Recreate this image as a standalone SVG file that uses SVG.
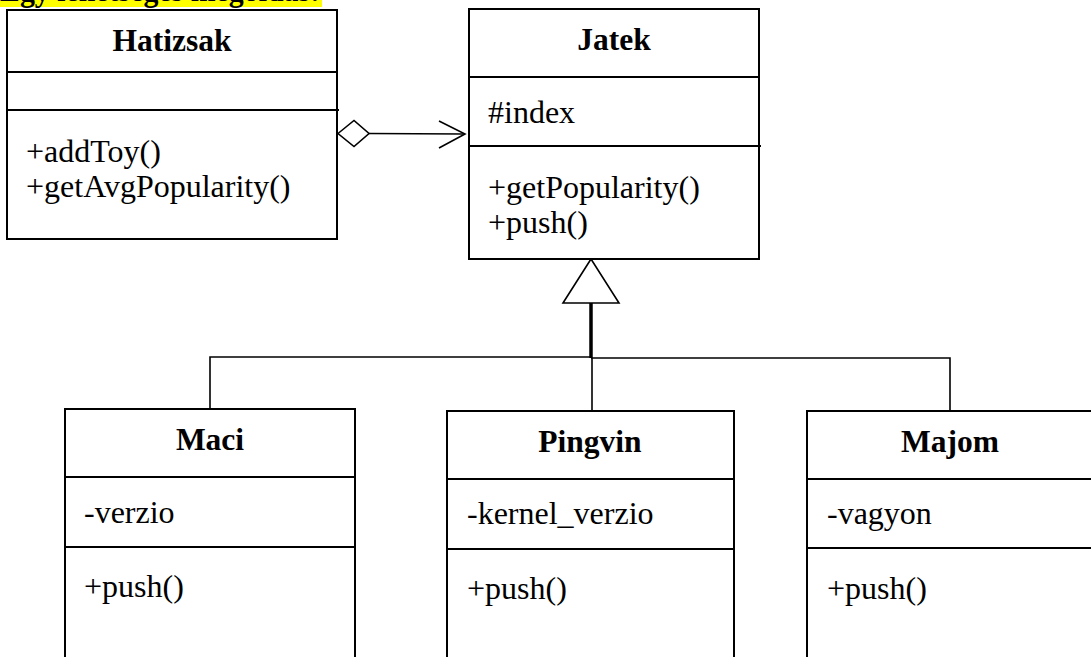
<svg xmlns="http://www.w3.org/2000/svg" width="1091" height="657" viewBox="0 0 1091 657">
<style>
.box{fill:#fff;stroke:#000;stroke-width:2}
.div{stroke:#000;stroke-width:2}
.t{font-family:"Liberation Serif","Times New Roman",serif;font-size:32px;fill:#000}
.b{font-weight:bold;text-anchor:middle;font-size:31.5px}
.c{fill:none;stroke:#000;stroke-width:1.6}
</style>
<rect width="1091" height="657" fill="#fff"/>
<g id="title">
<rect x="0" y="0" width="322" height="7" fill="#ffff00"/>
<text class="t" x="0" y="1" font-weight="bold" textLength="320" lengthAdjust="spacingAndGlyphs">Egy lehetséges megoldás:</text>
</g>
<g id="connectors">
<polygon class="c" points="338,133.5 354,120.5 369,133.5 354,146.5" fill="#fff"/>
<line class="c" x1="369" y1="133.5" x2="464" y2="134"/>
<polyline class="c" points="439,121 465,134 439,148"/>
<polygon class="c" points="591,259 563,303 619,303" fill="#fff"/>
<line x1="591" y1="303" x2="591" y2="358" stroke="#000" stroke-width="3.5"/>
<polyline class="c" points="210,409 210,357 591,357"/>
<polyline class="c" points="591,358 950,358 950,411"/>
<line class="c" x1="592" y1="358" x2="592" y2="411"/>
</g>
<g id="Hatizsak">
<rect class="box" x="7" y="10" width="330" height="229"/>
<line class="div" x1="7" y1="72" x2="337" y2="72"/>
<line class="div" x1="7" y1="110" x2="339" y2="110"/>
<text class="t b" x="172" y="51">Hatizsak</text>
<text class="t" x="26" y="162">+addToy()</text>
<text class="t" x="26" y="197">+getAvgPopularity()</text>
</g>
<g id="Jatek">
<rect class="box" x="469" y="9" width="290" height="250"/>
<line class="div" x1="469" y1="77" x2="760" y2="77"/>
<line class="div" x1="469" y1="146" x2="761" y2="146"/>
<text class="t b" x="614" y="50">Jatek</text>
<text class="t" x="488" y="123">#index</text>
<text class="t" x="488" y="198">+getPopularity()</text>
<text class="t" x="488" y="233">+push()</text>
</g>
<g id="Maci">
<rect class="box" x="65" y="409" width="290" height="260"/>
<line class="div" x1="65" y1="477" x2="356" y2="477"/>
<line class="div" x1="65" y1="547" x2="356" y2="547"/>
<text class="t b" x="210" y="450">Maci</text>
<text class="t" x="84" y="523">-verzio</text>
<text class="t" x="84" y="597">+push()</text>
</g>
<g id="Pingvin">
<rect class="box" x="447" y="411" width="287" height="260"/>
<line class="div" x1="447" y1="479" x2="735" y2="479"/>
<line class="div" x1="447" y1="549" x2="735" y2="549"/>
<text class="t b" x="590" y="452">Pingvin</text>
<text class="t" x="467" y="524">-kernel_verzio</text>
<text class="t" x="467" y="599">+push()</text>
</g>
<g id="Majom">
<rect class="box" x="807" y="411" width="300" height="260"/>
<line class="div" x1="807" y1="479" x2="1091" y2="479"/>
<line class="div" x1="807" y1="548" x2="1091" y2="548"/>
<text class="t b" x="950" y="452">Majom</text>
<text class="t" x="827" y="524">-vagyon</text>
<text class="t" x="827" y="599">+push()</text>
</g>
</svg>
